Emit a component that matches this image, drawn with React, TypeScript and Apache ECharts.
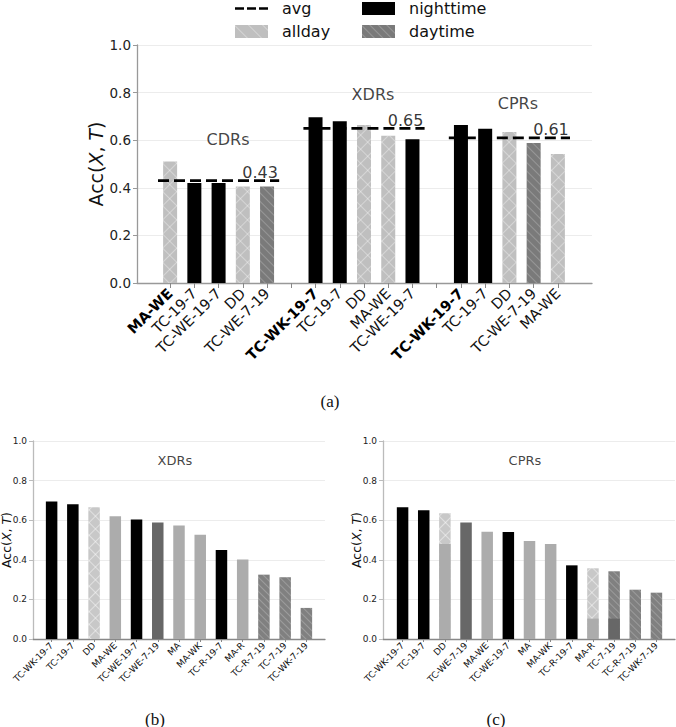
import React, { useEffect, useRef } from "react";
import * as echarts from "echarts";

const FONT = "'DejaVu Sans', sans-serif";

// ---------- (a) ----------
const topCategories = [
  "MA-WE", "TC-19-7", "TC-WE-19-7", "DD", "TC-WE-7-19", "",
  "TC-WK-19-7", "TC-19-7", "DD", "MA-WE", "TC-WE-19-7", "",
  "TC-WK-19-7", "TC-19-7", "DD", "TC-WE-7-19", "MA-WE",
];
const topValues = [
  0.51, 0.42, 0.42, 0.405, 0.405, null,
  0.696, 0.68, 0.664, 0.619, 0.604, null,
  0.664, 0.648, 0.634, 0.588, 0.542,
];
const topKinds = [
  "allday", "nighttime", "nighttime", "allday", "daytime", "",
  "nighttime", "nighttime", "allday", "allday", "nighttime", "",
  "nighttime", "nighttime", "allday", "daytime", "allday",
];
const topBold = [0, 6, 12];
const groupNames = ["CDRs", "XDRs", "CPRs"];
const groupStarts = [0, 6, 12];
const groupSize = 5;
const groupAvg = [0.43, 0.65, 0.61];
const groupTitleX = [2.39, 8.37, 14.35];
const groupTitleY = [0.605, 0.79, 0.756];
const legendNames = ["avg", "nighttime", "allday", "daytime"];

// ---------- (b) ----------
const xdrCategories = [
  "TC-WK-19-7", "TC-19-7", "DD", "MA-WE", "TC-WE-19-7", "TC-WE-7-19", "MA",
  "MA-WK", "TC-R-19-7", "MA-R", "TC-R-7-19", "TC-7-19", "TC-WK-7-19",
];
const xdrValues = [0.695, 0.68, 0.665, 0.62, 0.603, 0.588, 0.573, 0.527, 0.45, 0.402, 0.325, 0.312, 0.157];
const xdrKinds = ["night", "night", "light", "gray", "night", "dark", "gray", "gray", "night", "gray", "hatch", "hatch", "hatch"];

// ---------- (c) ----------
const cprCategories = [
  "TC-WK-19-7", "TC-19-7", "DD", "TC-WE-7-19", "MA-WE", "TC-WE-19-7", "MA",
  "MA-WK", "TC-R-19-7", "MA-R", "TC-7-19", "TC-R-7-19", "TC-WK-7-19",
];
const cprValues = [0.665, 0.65, 0.635, 0.588, 0.542, 0.54, 0.495, 0.48, 0.372, 0.357, 0.342, 0.249, 0.234];
const cprKinds = ["night", "night", "light", "dark", "gray", "night", "gray", "gray", "night", "light", "hatch", "hatch", "hatch"];
const cprBaseValues = [null, null, 0.48, null, null, null, null, null, null, 0.103, 0.103, null, null];
const cprBaseKinds = ["", "", "gray", "", "", "", "", "", "", "gray", "dark", "", ""];

const yTicksMax = 1;

function hatch(color: string, gap: number, rot: number) {
  return {
    symbol: "rect",
    symbolSize: 1,
    color,
    dashArrayX: [1, 0],
    dashArrayY: [1, gap],
    rotation: rot,
  };
}

const Q = Math.PI / 4;

const topKindStyle: Record<string, any> = {
  nighttime: { color: "#000000" },
  allday: { color: "#bfbfbf", decal: hatch("rgba(255,255,255,0.35)", 9, Q) },
  daytime: { color: "#7a7a7a", decal: hatch("rgba(255,255,255,0.22)", 5, Q) },
};

const kindStyle: Record<string, any> = {
  night: { color: "#000000" },
  gray: { color: "#acacac" },
  light: { color: "#c8c8c8", decal: hatch("rgba(255,255,255,0.45)", 8, Q) },
  dark: { color: "#676767" },
  hatch: { color: "#808080", decal: hatch("rgba(255,255,255,0.22)", 4, Q) },
};

function frameAxes(gridIndex: number, labelSize: number, nameSize: number, nameGap: number, yLineColor: string, xLineColor: string) {
  const x = {
    type: "value",
    gridIndex,
    min: 0,
    max: 1,
    axisLine: { show: true, lineStyle: { color: xLineColor, width: 1.3 } },
    axisTick: { show: false },
    axisLabel: { show: false },
    splitLine: { show: false },
  };
  const y = {
    type: "value",
    gridIndex,
    min: 0,
    max: yTicksMax,
    interval: 0.2,
    name: "Acc({i|X}, {i|T})",
    nameLocation: "middle",
    nameGap,
    nameMoveOverlap: false,
    nameTextStyle: {
      fontSize: nameSize,
      fontFamily: FONT,
      color: "#111",
      rich: { i: { fontStyle: "italic", fontSize: nameSize, fontFamily: FONT, color: "#111" } },
    },
    axisLine: { show: true, lineStyle: { color: yLineColor, width: 1.3 } },
    axisTick: { show: true, length: 4, lineStyle: { color: yLineColor } },
    axisLabel: {
      fontSize: labelSize,
      fontFamily: FONT,
      color: "#222",
      margin: 6,
      formatter: (v: number) => v.toFixed(1),
    },
    splitLine: { show: true, lineStyle: { color: "#ececec", width: 1 } },
  };
  return { x, y };
}

function catAxis(gridIndex: number, cats: string[], fontSize: number, bold: number[], tickLen: number, margin: number) {
  return {
    type: "category",
    gridIndex,
    data: cats.map((_, i) => String(i)),
    axisLine: { show: false },
    axisTick: { show: true, alignWithLabel: true, length: tickLen, lineStyle: { color: "#888" } },
    axisLabel: {
      interval: 0,
      rotate: 45,
      margin,
      fontSize,
      fontFamily: FONT,
      color: "#111",
      formatter: (v: string) => {
        const i = Number(v);
        const t = cats[i];
        return bold.indexOf(i) >= 0 ? "{b|" + t + "}" : t;
      },
      rich: { b: { fontWeight: "bold", fontSize, fontFamily: FONT, color: "#000" } },
    },
    splitLine: { show: false },
  };
}

function hiddenY(gridIndex: number) {
  return { type: "value", gridIndex, min: 0, max: 1, show: false, splitLine: { show: false } };
}

function bottomSeries(vals: number[], kinds: string[], xi: number, yi: number, baseVals: (number | null)[] | null, baseKinds: string[] | null) {
  const list: any[] = [];
  list.push({
    type: "bar",
    name: "panel" + xi,
    xAxisIndex: xi,
    yAxisIndex: yi,
    barWidth: 11.5,
    barGap: "-100%",
    data: vals.map((v, i) => ({ value: v, itemStyle: kindStyle[kinds[i]] })),
  });
  list.push({
    type: "bar",
    name: "cross" + xi,
    xAxisIndex: xi,
    yAxisIndex: yi,
    barWidth: 11.5,
    barGap: "-100%",
    silent: true,
    data: vals.map((v, i) =>
      kinds[i] === "light"
        ? { value: v, itemStyle: { color: "rgba(0,0,0,0)", decal: hatch("rgba(255,255,255,0.45)", 8, -Q) } }
        : "-"
    ),
  });
  if (baseVals && baseKinds) {
    list.push({
      type: "bar",
      name: "base" + xi,
      xAxisIndex: xi,
      yAxisIndex: yi,
      barWidth: 11.5,
      barGap: "-100%",
      data: baseVals.map((v, i) => (v == null ? "-" : { value: v, itemStyle: kindStyle[baseKinds[i]] })),
    });
  }
  return list;
}

export default function App() {
  const ref = useRef<HTMLDivElement>(null);
  useEffect(() => {
    if (!ref.current) return;
    const chart = echarts.init(ref.current, null, { renderer: "svg" });

    const fa = frameAxes(0, 13.5, 19, 32, "#999", "#999");
    const fb = frameAxes(2, 9, 12.5, 20, "#bbb", "#888");
    const fc = frameAxes(4, 9, 12.5, 20, "#bbb", "#888");

    const grids = [
      { left: 137, right: 84, top: 45, bottom: 444 },
      { left: 158, right: 106, top: 45, bottom: 444 },
      { left: 33, right: 351, top: 441, bottom: 88 },
      { left: 41, right: 359, top: 441, bottom: 88 },
      { left: 383, right: 1, top: 441, bottom: 88 },
      { left: 392, right: 9, top: 441, bottom: 88 },
    ].map((g) => ({ ...g, outerBoundsMode: "none", containLabel: false }));

    const xAxis = [
      fa.x,
      catAxis(1, topCategories, 14.5, topBold, 5, 8),
      { type: "value", gridIndex: 1, min: -0.5, max: topCategories.length - 0.5, show: false, splitLine: { show: false } },
      fb.x,
      catAxis(3, xdrCategories, 9, [], 3, 5),
      fc.x,
      catAxis(5, cprCategories, 9, [], 3, 5),
    ];
    const yAxis = [fa.y, hiddenY(1), fb.y, hiddenY(3), fc.y, hiddenY(5)];

    const series: any[] = [];
    ["nighttime", "allday", "daytime"].forEach((k) => {
      series.push({
        type: "bar",
        name: k,
        xAxisIndex: 1,
        yAxisIndex: 1,
        barWidth: 14,
        barGap: "-100%",
        itemStyle: topKindStyle[k],
        data: topValues.map((v, i) => (topKinds[i] === k ? v : "-")),
      });
    });
    series.push({
      type: "bar",
      name: "alldayCross",
      xAxisIndex: 1,
      yAxisIndex: 1,
      barWidth: 14,
      barGap: "-100%",
      silent: true,
      itemStyle: { color: "rgba(0,0,0,0)", decal: hatch("rgba(255,255,255,0.35)", 9, -Q) },
      data: topValues.map((v, i) => (topKinds[i] === "allday" ? v : "-")),
    });
    groupStarts.forEach((s, g) => {
      series.push({
        type: "line",
        name: "avg",
        xAxisIndex: 2,
        yAxisIndex: 1,
        symbol: "none",
        z: 5,
        lineStyle: { color: "#000", width: 2.7, type: [11, 5] },
        itemStyle: { color: "#000" },
        data: [
          [s - 0.5, groupAvg[g]],
          [s + groupSize - 0.5, groupAvg[g]],
        ],
      });
    });
    series.push({
      type: "scatter",
      name: "avgLabels",
      xAxisIndex: 2,
      yAxisIndex: 1,
      symbolSize: 0,
      silent: true,
      z: 6,
      label: {
        show: true,
        position: "top",
        align: "right",
        distance: 0,
        fontSize: 16,
        fontFamily: FONT,
        color: "#000",
        formatter: (p: any) => p.value[1].toFixed(2),
      },
      data: groupStarts.map((s, g) => [s + groupSize - 0.55, groupAvg[g]]),
    });
    series.push({
      type: "scatter",
      name: "groupTitles",
      xAxisIndex: 2,
      yAxisIndex: 1,
      symbolSize: 0,
      silent: true,
      label: { show: true, position: "inside", fontSize: 16, fontFamily: FONT, color: "#111", formatter: "{b}" },
      data: groupNames.map((n, g) => ({ name: n, value: [groupTitleX[g], groupTitleY[g]] })),
    });

    series.push(...bottomSeries(xdrValues, xdrKinds, 4, 3, null, null));
    series.push(...bottomSeries(cprValues, cprKinds, 6, 5, cprBaseValues, cprBaseKinds));

    series.push({
      type: "scatter",
      name: "titleB",
      xAxisIndex: 3,
      yAxisIndex: 2,
      symbolSize: 0,
      silent: true,
      label: { show: true, position: "inside", fontSize: 13, fontFamily: FONT, color: "#111", formatter: "{b}" },
      data: [{ name: "XDRs", value: [0.486, 0.9] }],
    });
    series.push({
      type: "scatter",
      name: "titleC",
      xAxisIndex: 5,
      yAxisIndex: 4,
      symbolSize: 0,
      silent: true,
      label: { show: true, position: "inside", fontSize: 13, fontFamily: FONT, color: "#111", formatter: "{b}" },
      data: [{ name: "CPRs", value: [0.486, 0.9] }],
    });

    const legendCommon = {
      orient: "vertical",
      top: 0.5,
      padding: 0,
      itemWidth: 33,
      itemHeight: 13,
      itemGap: 7,
      selectedMode: false,
      symbolKeepAspect: true,
      textStyle: { fontSize: 16, fontFamily: FONT, color: "#111", lineHeight: 16, padding: [0, 0, 0, 9] },
    };
    const dashIcon = "path://M0,0h9v2.7h-9z M12,0h9v2.7h-9z M24,0h9v2.7h-9z";

    chart.setOption({
      animation: false,
      backgroundColor: "#ffffff",
      grid: grids,
      xAxis,
      yAxis,
      legend: [
        { ...legendCommon, left: 235, data: [{ name: legendNames[0], icon: dashIcon }, { name: legendNames[2], icon: "rect" }] },
        { ...legendCommon, left: 362, data: [{ name: legendNames[1], icon: "rect" }, { name: legendNames[3], icon: "rect" }] },
      ],
      series,
      graphic: [
        { type: "text", x: 330, y: 401, style: { text: "(a)", font: "17px 'Liberation Serif', serif", fill: "#111", align: "center", verticalAlign: "middle" } },
        { type: "text", x: 155, y: 719, style: { text: "(b)", font: "17px 'Liberation Serif', serif", fill: "#111", align: "center", verticalAlign: "middle" } },
        { type: "text", x: 496, y: 719, style: { text: "(c)", font: "17px 'Liberation Serif', serif", fill: "#111", align: "center", verticalAlign: "middle" } },
      ],
    });
    return () => chart.dispose();
  }, []);
  return (
    <div
      ref={ref}
      style={{ position: "fixed", left: 0, top: 0, width: 676, height: 727, background: "#fff" }}
    />
  );
}
